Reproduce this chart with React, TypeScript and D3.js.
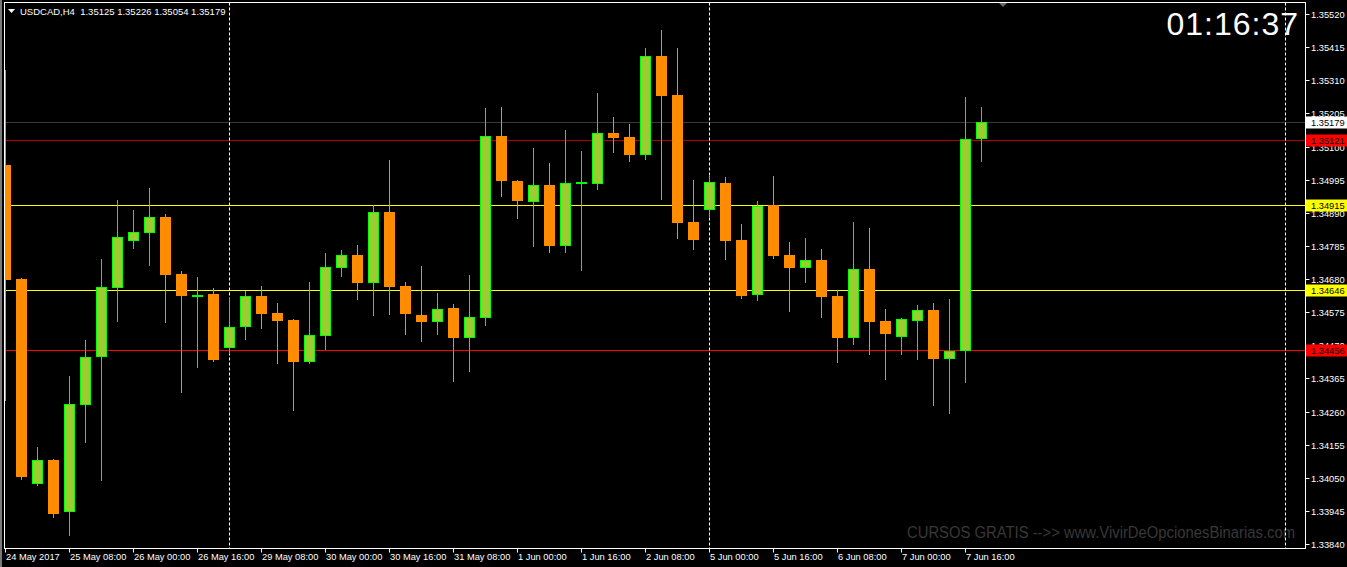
import React from 'react';
import * as d3 from 'd3';

const W = 1347;
const H = 567;

// OHLC of USDCAD H4 candles (index 0 = 24 May 2017 16:00)
const opens = [
  1.35041, 1.3468, 1.3403, 1.34106, 1.33941, 1.3428, 1.34433, 1.34651, 1.348, 1.34826,
  1.34877, 1.34696, 1.34626, 1.34632, 1.34461, 1.34528, 1.34626, 1.34572, 1.3455, 1.34417,
  1.34499, 1.34715, 1.34756, 1.34667, 1.34892, 1.34658, 1.34566, 1.34544, 1.34588, 1.34493,
  1.34556, 1.35133, 1.34991, 1.34924, 1.34978, 1.34785, 1.34983, 1.34981, 1.35143, 1.3513,
  1.35073, 1.35387, 1.35263, 1.34861, 1.34899, 1.34984, 1.34804, 1.34629, 1.34915, 1.34756,
  1.34715, 1.3474, 1.34626, 1.34493, 1.34712, 1.34547, 1.34496, 1.34547, 1.34582, 1.34426,
  1.34452, 1.35125,
];
const highs = [
  1.35342, 1.34682, 1.34147, 1.34108, 1.34372, 1.34487, 1.34743, 1.3493, 1.34899, 1.34968,
  1.34886, 1.34705, 1.34686, 1.34651, 1.3462, 1.34642, 1.34658, 1.34604, 1.34552, 1.3467,
  1.34762, 1.34772, 1.34788, 1.34915, 1.35057, 1.3467, 1.34721, 1.34636, 1.34601, 1.34693,
  1.35222, 1.35225, 1.34993, 1.35095, 1.35048, 1.35152, 1.35086, 1.3527, 1.35193, 1.35171,
  1.35412, 1.35469, 1.35412, 1.34994, 1.35007, 1.35003, 1.34854, 1.34927, 1.35007, 1.34797,
  1.3481, 1.34775, 1.34645, 1.34861, 1.34842, 1.34585, 1.34556, 1.34598, 1.34604, 1.34617,
  1.35257, 1.35226,
];
const lows = [
  1.34296, 1.34046, 1.34027, 1.33925, 1.33868, 1.34163, 1.34043, 1.34547, 1.34778, 1.34724,
  1.34544, 1.34322, 1.34401, 1.34421, 1.34445, 1.3449, 1.34525, 1.34414, 1.34265, 1.34414,
  1.34458, 1.3469, 1.34617, 1.34566, 1.34569, 1.34506, 1.34483, 1.34506, 1.34357, 1.34388,
  1.34534, 1.34943, 1.34873, 1.34785, 1.34766, 1.34766, 1.34709, 1.34965, 1.35083, 1.35054,
  1.3506, 1.34934, 1.3481, 1.34775, 1.3488, 1.34743, 1.3462, 1.34613, 1.34747, 1.34579,
  1.3467, 1.3456, 1.34417, 1.34474, 1.34442, 1.34363, 1.34442, 1.34426, 1.3428, 1.34255,
  1.34353, 1.35054,
];
const closes = [
  1.34677, 1.34052, 1.34106, 1.33935, 1.34284, 1.34433, 1.34655, 1.34813, 1.34829, 1.34877,
  1.34693, 1.34626, 1.34629, 1.34423, 1.34528, 1.34626, 1.34569, 1.34547, 1.34417, 1.34502,
  1.34718, 1.34756, 1.34667, 1.34892, 1.34655, 1.34569, 1.34544, 1.34585, 1.34493, 1.3456,
  1.35133, 1.34991, 1.34927, 1.34978, 1.34785, 1.34984, 1.34987, 1.35143, 1.35127, 1.35073,
  1.35387, 1.3526, 1.34858, 1.34804, 1.34987, 1.348, 1.34626, 1.34911, 1.34753, 1.34715,
  1.3474, 1.34623, 1.34493, 1.34712, 1.34544, 1.34506, 1.34553, 1.34582, 1.34426, 1.34452,
  1.35125, 1.35179,
];

const timeLabels = [
  '24 May 2017', '25 May 08:00', '26 May 00:00', '26 May 16:00', '29 May 08:00',
  '30 May 00:00', '30 May 16:00', '31 May 08:00', '1 Jun 00:00', '1 Jun 16:00',
  '2 Jun 08:00', '5 Jun 00:00', '5 Jun 16:00', '6 Jun 08:00', '7 Jun 00:00', '7 Jun 16:00',
];
const timeLabelIdx = [0, 4, 8, 12, 16, 20, 24, 28, 32, 36, 40, 44, 48, 52, 56, 60];

const priceTicks = [
  1.3384, 1.33945, 1.3405, 1.34155, 1.3426, 1.34365, 1.3447, 1.34575, 1.3468,
  1.34785, 1.3489, 1.34995, 1.351, 1.35205, 1.3531, 1.35415, 1.3552,
];

const hLinePrices = [1.35179, 1.35121, 1.34915, 1.34646, 1.34456];
const hLineColors = ['#3a3a3a', '#b40000', '#ffff00', '#ffff00', '#ff0000'];
const hBadgeColors = ['#ffffff', '#ff0000', '#ffff00', '#ffff00', '#ff0000'];

const separatorIdx = [14, 44, 80];

const symbolText = 'USDCAD,H4';
const ohlcText = '1.35125 1.35226 1.35054 1.35179';
const timerText = '01:16:37';
const watermark = 'CURSOS GRATIS -->> www.VivirDeOpcionesBinarias.com';

const BULL_FILL = '#9acd32';
const BULL_LINE = '#00ff00';
const BEAR = '#ff8c00';
const FONT = '"Liberation Sans", Arial, sans-serif';

export default function App() {
  const left = 4.5;
  const right = 1305.5;
  const top = 2.5;
  const bottom = 548.5;

  const y = d3.scaleLinear().domain([1.3384, 1.3552]).range([544, 14]);
  const x = d3.scaleLinear().domain([0, 61]).range([5.3, 5.3 + 16 * 61]);
  const px = (i: number) => Math.floor(x(i));

  const candles = opens.map((o, i) => ({ o, h: highs[i], l: lows[i], c: closes[i], i }));

  return (
    <svg
      width={W}
      height={H}
      style={{ position: 'absolute', left: 0, top: 0, background: '#000' }}
      fontFamily={FONT}
    >
      <rect x={0} y={0} width={W} height={H} fill="#000" />
      <rect x={0} y={0} width={2} height={H} fill="#7a7a7a" />
      <defs>
        <clipPath id="plot">
          <rect x={5} y={3} width={right - 5} height={bottom - 3} />
        </clipPath>
      </defs>

      {/* watermark */}
      <text x={907} y={538} fontSize={16} fill="#383838" textLength={388} lengthAdjust="spacingAndGlyphs">
        {watermark}
      </text>

      {/* horizontal level lines */}
      {hLinePrices.map((p, k) => (
        <line
          key={'hl' + k}
          x1={5}
          x2={right}
          y1={Math.round(y(p)) + 0.5}
          y2={Math.round(y(p)) + 0.5}
          stroke={hLineColors[k]}
          strokeWidth={1}
        />
      ))}

      {/* separators */}
      {separatorIdx.map((s) => (
        <line
          key={'sep' + s}
          x1={px(s) + 0.5}
          x2={px(s) + 0.5}
          y1={top}
          y2={bottom}
          stroke="#fff"
          strokeWidth={1}
          strokeDasharray="3,2"
        />
      ))}

      {/* candles */}
      <g clipPath="url(#plot)">
        {candles.map((d) => {
          const cx = px(d.i);
          const bull = d.c >= d.o;
          const yt = Math.round(y(Math.max(d.o, d.c)));
          const yb = Math.round(y(Math.min(d.o, d.c)));
          const hgt = Math.max(2, yb - yt);
          const col = bull ? BULL_LINE : BEAR;
          return (
            <g key={'c' + d.i}>
              <line
                x1={cx + 0.5}
                x2={cx + 0.5}
                y1={Math.round(y(d.h))}
                y2={Math.round(y(d.l)) + 1}
                stroke={col}
                strokeWidth={1}
              />
              {bull ? (
                hgt <= 3 ? (
                  <rect x={cx - 5} y={yt} width={11} height={hgt} fill={BULL_LINE} />
                ) : (
                  <rect
                    x={cx - 4.5}
                    y={yt + 0.5}
                    width={10}
                    height={hgt - 1}
                    fill={BULL_FILL}
                    stroke={BULL_LINE}
                    strokeWidth={1}
                  />
                )
              ) : (
                <rect x={cx - 5} y={yt} width={11} height={hgt} fill={BEAR} />
              )}
            </g>
          );
        })}
      </g>

      {/* frame */}
      <rect x={left} y={top} width={right - left} height={bottom - top} fill="none" stroke="#fff" strokeWidth={1} />

      {/* chart shift marker */}
      <path d="M999,3 L1007,3 L1003,7 Z" fill="#6a6a6a" />

      {/* header */}
      <path d="M8,9 L15,9 L11.5,13 Z" fill="#fff" />
      <text x={20} y={14.5} fontSize={9.5} fill="#fff" style={{ whiteSpace: 'pre' }}>
        {symbolText + '  ' + ohlcText}
      </text>

      {/* timer */}
      <text x={1299} y={35} fontSize={32} fill="#fff" textAnchor="end" letterSpacing={1}>
        {timerText}
      </text>

      {/* price axis */}
      {priceTicks.map((p) => {
        const yy = Math.round(y(p)) + 0.5;
        return (
          <g key={'pt' + p}>
            <line x1={right} x2={right + 4} y1={yy} y2={yy} stroke="#fff" />
            <text x={1311} y={yy} dy="0.35em" fontSize={9.3} fill="#fff">
              {p.toFixed(5)}
            </text>
          </g>
        );
      })}

      {/* level badges */}
      {hLinePrices.map((p, k) => {
        const yy = Math.round(y(p)) + 0.5;
        return (
          <g key={'bd' + k}>
            <rect x={1306} y={yy - 6} width={41} height={12} fill={hBadgeColors[k]} />
            <text x={1311} y={yy} dy="0.35em" fontSize={9.3} fill="#000">
              {p.toFixed(5)}
            </text>
          </g>
        );
      })}

      {/* time axis */}
      {timeLabels.map((t, k) => {
        const xx = px(timeLabelIdx[k]) + 0.5;
        return (
          <g key={'tl' + k}>
            <line x1={xx} x2={xx} y1={bottom} y2={bottom + 4} stroke="#fff" />
            <text x={xx + 0.5} y={560} fontSize={9.3} fill="#fff">
              {t}
            </text>
          </g>
        );
      })}
    </svg>
  );
}
